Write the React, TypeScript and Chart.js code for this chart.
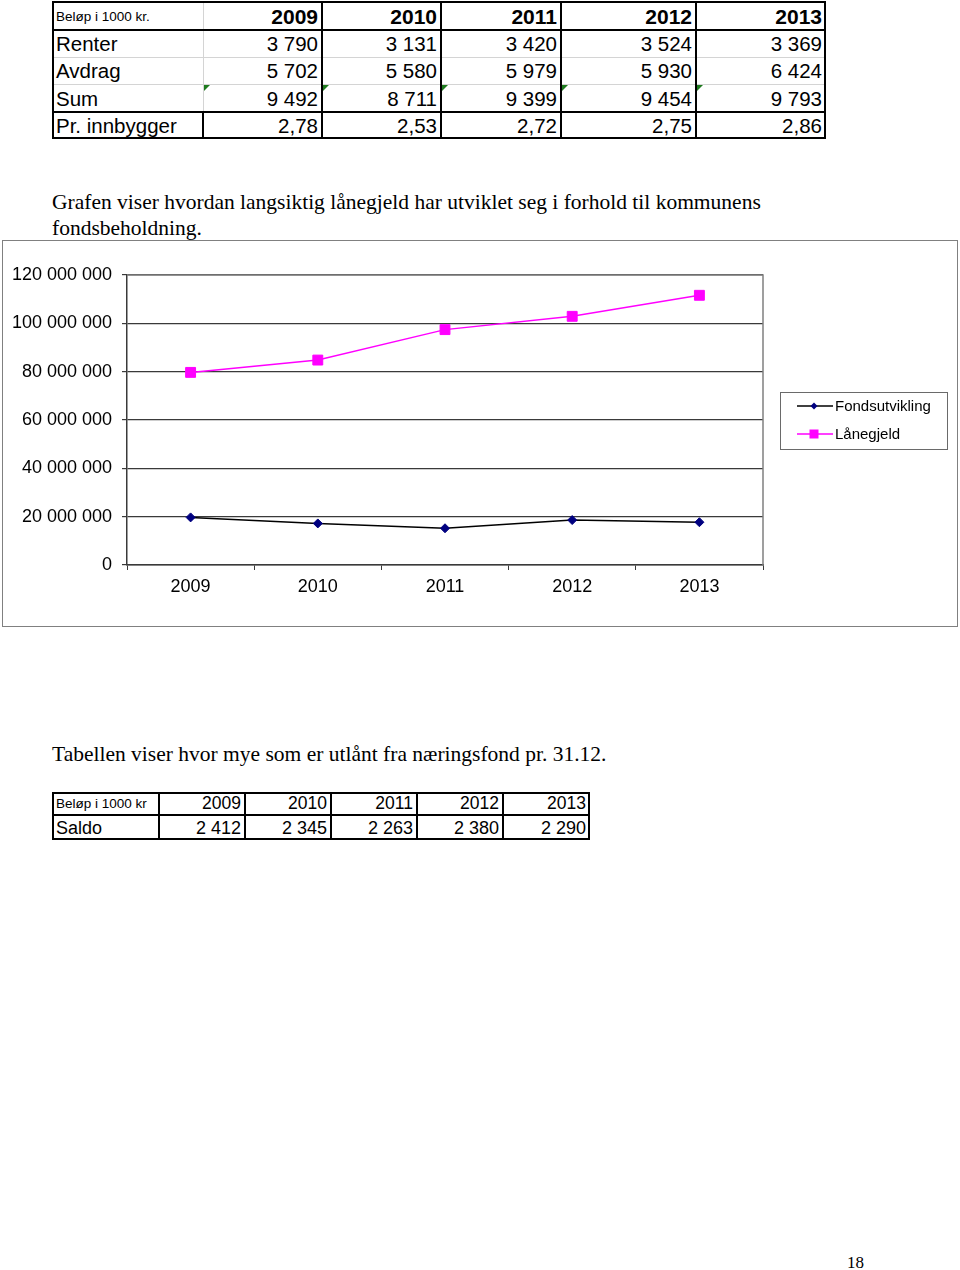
import React, { useEffect, useRef } from "react";
import { Chart, registerables } from "chart.js";

Chart.register(...registerables);

// ---------- data ----------
const years = ["2009", "2010", "2011", "2012", "2013"];
const renter = ["3 790", "3 131", "3 420", "3 524", "3 369"];
const avdrag = ["5 702", "5 580", "5 979", "5 930", "6 424"];
const sumRow = ["9 492", "8 711", "9 399", "9 454", "9 793"];
const prInnbygger = ["2,78", "2,53", "2,72", "2,75", "2,86"];

const fondsutvikling = [19700000, 17200000, 15200000, 18600000, 17700000];
const lanegjeld = [79700000, 84800000, 97400000, 102900000, 111600000];
const yTicks = [0, 20000000, 40000000, 60000000, 80000000, 100000000, 120000000];

const saldo = ["2 412", "2 345", "2 263", "2 380", "2 290"];

const SANS = "'Liberation Sans', Arial, sans-serif";
const SERIF = "'Liberation Serif', 'Times New Roman', serif";

function fmtSpace(v: number): string {
  return String(Math.round(v)).replace(/\B(?=(\d{3})+(?!\d))/g, " ");
}

type Cell = { text: string; x0: number; x1: number; y0: number; y1: number; align: "left" | "right"; size: number; bold?: boolean };

function CellDiv({ c }: { c: Cell }) {
  return (
    <div
      style={{
        position: "absolute",
        left: c.x0,
        top: c.y0,
        width: c.x1 - c.x0,
        height: c.y1 - c.y0,
        display: "flex",
        alignItems: "center",
        justifyContent: c.align === "left" ? "flex-start" : "flex-end",
        paddingLeft: c.align === "left" ? 4 : 0,
        paddingRight: c.align === "right" ? 4 : 0,
        boxSizing: "border-box",
        fontFamily: SANS,
        fontSize: c.size,
        fontWeight: c.bold ? "bold" : "normal",
        color: "#000",
        whiteSpace: "nowrap",
        lineHeight: 1,
      }}
    >
      {c.text}
    </div>
  );
}

function Line({ x, y, w, h, color }: { x: number; y: number; w: number; h: number; color: string }) {
  return <div style={{ position: "absolute", left: x, top: y, width: w, height: h, background: color }} />;
}

function Table1() {
  const cx = [52, 203, 322, 441, 561, 696, 826];
  const ry = [2, 30, 57, 84, 112, 139];
  const cells: Cell[] = [];
  cells.push({ text: "Beløp i 1000 kr.", x0: cx[0], x1: cx[1], y0: ry[0] + 2, y1: ry[1], align: "left", size: 13.5 });
  years.forEach((y, i) => cells.push({ text: y, x0: cx[i + 1], x1: cx[i + 2], y0: ry[0] + 1, y1: ry[1], align: "right", size: 21, bold: true }));
  const rows: [string, string[]][] = [
    ["Renter", renter],
    ["Avdrag", avdrag],
    ["Sum", sumRow],
    ["Pr. innbygger", prInnbygger],
  ];
  rows.forEach(([label, vals], r) => {
    cells.push({ text: label, x0: cx[0], x1: cx[1], y0: ry[r + 1] + 1, y1: ry[r + 2] + 1, align: "left", size: 20.5 });
    vals.forEach((v, i) => cells.push({ text: v, x0: cx[i + 1], x1: cx[i + 2], y0: ry[r + 1] + 1, y1: ry[r + 2] + 1, align: "right", size: 20.5 }));
  });
  const gray = "#d4d4d4";
  return (
    <>
      <Line x={cx[0]} y={ry[2]} w={cx[6] - cx[0]} h={1} color={gray} />
      <Line x={cx[0]} y={ry[3]} w={cx[6] - cx[0]} h={1} color={gray} />
      <Line x={cx[1]} y={ry[0]} w={1} h={ry[4] - ry[0]} color={gray} />
      <Line x={cx[1] - 1} y={ry[4]} w={2} h={ry[5] - ry[4]} color="#000" />
      {[2, 3, 4, 5].map((k) => (
        <Line key={k} x={cx[k] - 1} y={ry[0]} w={2} h={ry[5] - ry[0]} color="#000" />
      ))}
      <Line x={cx[0]} y={ry[1] - 1} w={cx[6] - cx[0]} h={2} color="#000" />
      <Line x={cx[0]} y={ry[4] - 1} w={cx[6] - cx[0]} h={2} color="#000" />
      <div style={{ position: "absolute", left: cx[0], top: ry[0] - 1, width: cx[6] - cx[0], height: ry[5] - ry[0] + 1, border: "2px solid #000", boxSizing: "border-box" }} />
      {[1, 2, 3, 4, 5].map((k) => (
        <div key={k} style={{ position: "absolute", left: cx[k] + 1, top: ry[3] + 1, width: 0, height: 0, borderTop: "6px solid #1e7b1e", borderRight: "6px solid transparent" }} />
      ))}
      {cells.map((c, i) => (
        <CellDiv key={i} c={c} />
      ))}
    </>
  );
}

function Table2() {
  const cx = [52, 159, 245, 331, 417, 503, 590];
  const ry = [792, 815, 840];
  const cells: Cell[] = [];
  cells.push({ text: "Beløp i 1000 kr", x0: cx[0], x1: cx[1], y0: ry[0] + 1, y1: ry[1], align: "left", size: 13.5 });
  years.forEach((y, i) => cells.push({ text: y, x0: cx[i + 1], x1: cx[i + 2], y0: ry[0] + 1, y1: ry[1], align: "right", size: 17.5 }));
  cells.push({ text: "Saldo", x0: cx[0], x1: cx[1], y0: ry[1] + 1, y1: ry[2], align: "left", size: 18 });
  saldo.forEach((v, i) => cells.push({ text: v, x0: cx[i + 1], x1: cx[i + 2], y0: ry[1] + 1, y1: ry[2], align: "right", size: 18 }));
  return (
    <>
      <div style={{ position: "absolute", left: cx[0], top: ry[0], width: cx[6] - cx[0], height: ry[2] - ry[0], border: "2px solid #000", boxSizing: "border-box" }} />
      <Line x={cx[0]} y={ry[1] - 1} w={cx[6] - cx[0]} h={2} color="#000" />
      {[1, 2, 3, 4, 5].map((k) => (
        <Line key={k} x={cx[k] - 1} y={ry[0]} w={2} h={ry[2] - ry[0]} color="#000" />
      ))}
      {cells.map((c, i) => (
        <CellDiv key={i} c={c} />
      ))}
    </>
  );
}

function LineChart() {
  const ref = useRef<HTMLCanvasElement>(null);
  useEffect(() => {
    if (!ref.current) return;
    const legendBox = {
      id: "legendBox",
      afterDraw(chart: any) {
        const ctx = chart.ctx;
        ctx.save();
        const bx = 777.5, by = 151.5, bw = 167, bh = 57;
        ctx.strokeStyle = "#6a6a6a";
        ctx.lineWidth = 1;
        ctx.strokeRect(bx, by, bw, bh);
        const ys = [165, 193];
        chart.data.datasets.forEach((ds: any, i: number) => {
          const y = ys[i];
          ctx.strokeStyle = ds.borderColor;
          ctx.lineWidth = 1.5;
          ctx.beginPath();
          ctx.moveTo(794, y);
          ctx.lineTo(830, y);
          ctx.stroke();
          ctx.fillStyle = ds.pointBackgroundColor;
          const mx = 811;
          if (ds.pointStyle === "rectRot") {
            ctx.beginPath();
            ctx.moveTo(mx, y - 3.5);
            ctx.lineTo(mx + 3.5, y);
            ctx.lineTo(mx, y + 3.5);
            ctx.lineTo(mx - 3.5, y);
            ctx.closePath();
            ctx.fill();
          } else {
            ctx.fillRect(mx - 4.5, y - 4.5, 9, 9);
          }
          ctx.fillStyle = "#000";
          ctx.font = "15px " + SANS;
          ctx.textBaseline = "middle";
          ctx.textAlign = "left";
          ctx.fillText(ds.label, 832, y + 0.5);
        });
        ctx.restore();
      },
    };
    const plotBorder = {
      id: "plotBorder",
      beforeDatasetsDraw(chart: any) {
        const { ctx, chartArea } = chart;
        ctx.save();
        ctx.strokeStyle = "#808080";
        ctx.lineWidth = 1.5;
        ctx.beginPath();
        ctx.moveTo(chartArea.left, chartArea.top);
        ctx.lineTo(chartArea.right, chartArea.top);
        ctx.lineTo(chartArea.right, chartArea.bottom);
        ctx.stroke();
        ctx.restore();
      },
    };
    const chart = new Chart(ref.current, {
      type: "line",
      data: {
        labels: years,
        datasets: [
          {
            label: "Fondsutvikling",
            data: fondsutvikling,
            borderColor: "#000000",
            borderWidth: 1.5,
            pointStyle: "rectRot",
            pointRadius: 4.5,
            pointBackgroundColor: "#000080",
            pointBorderColor: "#000080",
            pointBorderWidth: 1,
            tension: 0,
          },
          {
            label: "Lånegjeld",
            data: lanegjeld,
            borderColor: "#FF00FF",
            borderWidth: 1.5,
            pointStyle: "rect",
            pointRadius: 7,
            pointBackgroundColor: "#FF00FF",
            pointBorderColor: "#FF00FF",
            pointBorderWidth: 1,
            tension: 0,
          },
        ],
      } as any,
      plugins: [plotBorder, legendBox],
      options: {
        responsive: false,
        animation: false,
        devicePixelRatio: 1,
        layout: { padding: { left: 0, right: 194, top: 34, bottom: 0 } },
        plugins: { legend: { display: false }, tooltip: { enabled: false } },
        font: { family: SANS } as any,
        scales: {
          x: {
            type: "category",
            offset: true,
            grid: { offset: true, drawOnChartArea: false, drawTicks: true, tickLength: 5, color: "#3a3a3a" },
            border: { display: true, color: "#3a3a3a", width: 1.5 },
            ticks: { padding: 6, color: "#000", font: { family: SANS, size: 18 }, maxRotation: 0 },
            afterFit: (s: any) => {
              s.height = 61;
            },
          },
          y: {
            min: 0,
            max: 120000000,
            afterBuildTicks: (s: any) => {
              s.ticks = yTicks.map((v) => ({ value: v }));
            },
            grid: { drawTicks: true, tickLength: 5, color: "#3a3a3a", lineWidth: 1.2 },
            border: { display: true, color: "#3a3a3a", width: 1.5 },
            ticks: {
              padding: 10,
              color: "#000",
              font: { family: SANS, size: 18 },
              callback: (v: any) => fmtSpace(Number(v)),
            },
            afterFit: (s: any) => {
              s.width = 124;
            },
          },
        },
      } as any,
    });
    return () => chart.destroy();
  }, []);
  return (
    <div
      style={{
        position: "absolute",
        left: 2,
        top: 240,
        width: 956,
        height: 387,
        border: "1px solid #808080",
        boxSizing: "border-box",
        background: "#fff",
      }}
    >
      <canvas ref={ref} width={954} height={385} style={{ display: "block", width: 954, height: 385 }} />
    </div>
  );
}

export default function App() {
  return (
    <div style={{ position: "absolute", left: 0, top: 0, width: 960, height: 1270, background: "#fff", overflow: "hidden" }}>
      <Table1 />
      <div style={{ position: "absolute", left: 52, top: 189, fontFamily: SERIF, fontSize: 21.5, lineHeight: "26px", color: "#000", whiteSpace: "nowrap" }}>
        Grafen viser hvordan langsiktig lånegjeld har utviklet seg i forhold til kommunens
        <br />
        fondsbeholdning.
      </div>
      <LineChart />
      <div style={{ position: "absolute", left: 52, top: 741, fontFamily: SERIF, fontSize: 21.5, lineHeight: "26px", color: "#000", whiteSpace: "nowrap" }}>
        Tabellen viser hvor mye som er utlånt fra næringsfond pr. 31.12.
      </div>
      <Table2 />
      <div style={{ position: "absolute", left: 847, top: 1252, fontFamily: SERIF, fontSize: 17, lineHeight: "22px", color: "#000" }}>18</div>
    </div>
  );
}
